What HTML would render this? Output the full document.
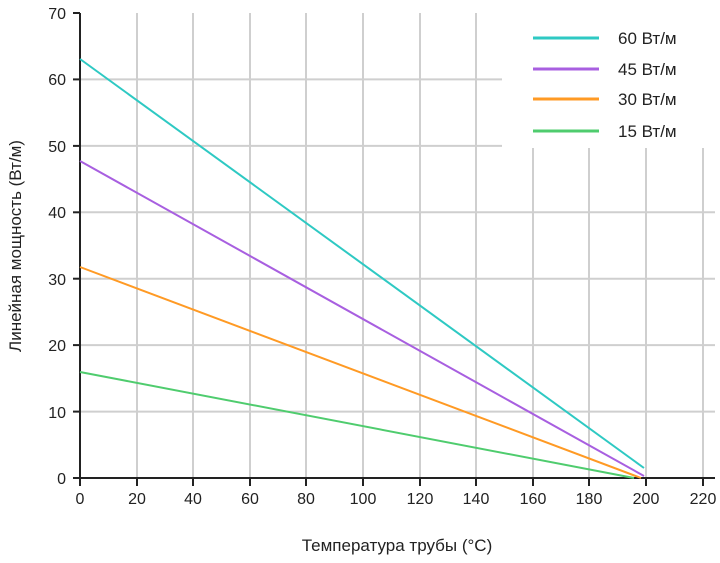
<!DOCTYPE html><html><head><style>body{margin:0;background:#fff}</style></head><body>
<svg width="720" height="558" xmlns="http://www.w3.org/2000/svg" font-family="Liberation Sans, sans-serif" font-size="14" fill="#222">
<g stroke="#cfcfcf" stroke-width="2">
<line x1="137" y1="13" x2="137" y2="478"/><line x1="193" y1="13" x2="193" y2="478"/><line x1="250" y1="13" x2="250" y2="478"/><line x1="306" y1="13" x2="306" y2="478"/><line x1="363" y1="13" x2="363" y2="478"/><line x1="420" y1="13" x2="420" y2="478"/><line x1="476" y1="13" x2="476" y2="478"/><line x1="533" y1="13" x2="533" y2="478"/><line x1="589" y1="13" x2="589" y2="478"/><line x1="646" y1="13" x2="646" y2="478"/><line x1="703" y1="13" x2="703" y2="478"/>
<line x1="80" y1="79.4" x2="715" y2="79.4"/><line x1="80" y1="145.9" x2="715" y2="145.9"/><line x1="80" y1="212.3" x2="715" y2="212.3"/><line x1="80" y1="278.7" x2="715" y2="278.7"/><line x1="80" y1="345.1" x2="715" y2="345.1"/><line x1="80" y1="411.6" x2="715" y2="411.6"/>
</g>
<rect x="502" y="0" width="218" height="148" fill="#fff"/>
<g stroke="#222" stroke-width="2">
<line x1="80" y1="13" x2="80" y2="479"/><line x1="79" y1="478" x2="715" y2="478"/>
<line x1="80" y1="478" x2="80" y2="486"/><line x1="137" y1="478" x2="137" y2="486"/><line x1="193" y1="478" x2="193" y2="486"/><line x1="250" y1="478" x2="250" y2="486"/><line x1="306" y1="478" x2="306" y2="486"/><line x1="363" y1="478" x2="363" y2="486"/><line x1="420" y1="478" x2="420" y2="486"/><line x1="476" y1="478" x2="476" y2="486"/><line x1="533" y1="478" x2="533" y2="486"/><line x1="589" y1="478" x2="589" y2="486"/><line x1="646" y1="478" x2="646" y2="486"/><line x1="703" y1="478" x2="703" y2="486"/>
<line x1="73" y1="13" x2="80" y2="13"/><line x1="73" y1="79.4" x2="80" y2="79.4"/><line x1="73" y1="145.9" x2="80" y2="145.9"/><line x1="73" y1="212.3" x2="80" y2="212.3"/><line x1="73" y1="278.7" x2="80" y2="278.7"/><line x1="73" y1="345.1" x2="80" y2="345.1"/><line x1="73" y1="411.6" x2="80" y2="411.6"/><line x1="73" y1="478" x2="80" y2="478"/>
</g>
<g stroke-width="2" fill="none">
<line x1="80" y1="59" x2="644" y2="468" stroke="#2ec9c3"/>
<line x1="80" y1="161" x2="644" y2="476" stroke="#a85fe0"/>
<line x1="80" y1="267" x2="641" y2="478" stroke="#ff9a24"/>
<line x1="80" y1="372" x2="634" y2="478" stroke="#4fcc6e"/>
<line x1="533" y1="38" x2="599" y2="38" stroke="#2ec9c3" stroke-width="3"/>
<line x1="533" y1="69" x2="599" y2="69" stroke="#a85fe0" stroke-width="3"/>
<line x1="533" y1="99" x2="599" y2="99" stroke="#ff9a24" stroke-width="3"/>
<line x1="533" y1="131" x2="599" y2="131" stroke="#4fcc6e" stroke-width="3"/>
</g>
<g font-size="17"><text x="618" y="44">60 Вт/м</text><text x="618" y="75">45 Вт/м</text><text x="618" y="105">30 Вт/м</text><text x="618" y="137">15 Вт/м</text></g>
<g text-anchor="end" font-size="16"><text x="66" y="19">70</text><text x="66" y="85">60</text><text x="66" y="152">50</text><text x="66" y="218">40</text><text x="66" y="285">30</text><text x="66" y="351">20</text><text x="66" y="418">10</text><text x="66" y="484">0</text></g>
<g text-anchor="middle" font-size="16"><text x="80" y="504">0</text><text x="137" y="504">20</text><text x="193" y="504">40</text><text x="250" y="504">60</text><text x="306" y="504">80</text><text x="363" y="504">100</text><text x="420" y="504">120</text><text x="476" y="504">140</text><text x="533" y="504">160</text><text x="589" y="504">180</text><text x="646" y="504">200</text><text x="703" y="504">220</text></g>
<text x="397" y="551" text-anchor="middle" font-size="17">Температура трубы (°C)</text>
<text transform="translate(21,246) rotate(-90)" text-anchor="middle" font-size="17">Линейная мощность (Вт/м)</text>
</svg></body></html>
